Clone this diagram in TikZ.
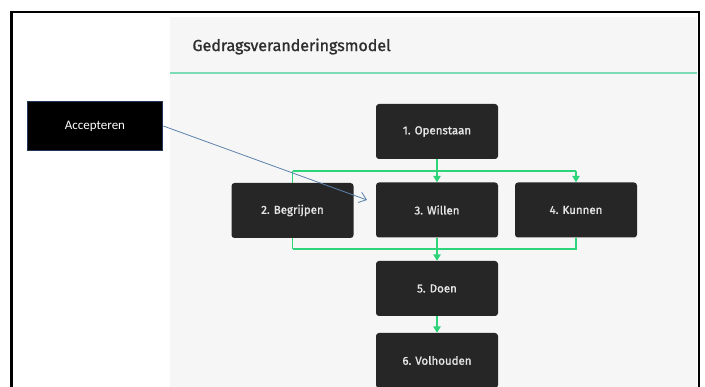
\documentclass[tikz,border=0pt]{standalone}
\usepackage{fontspec}
\setmainfont{Fira Sans}
\newfontfamily\medfont{Fira Sans}[FakeBold=1.3]
\newfontfamily\calib{Carlito}
\usetikzlibrary{arrows.meta,backgrounds}
\definecolor{boxfill}{HTML}{262626}
\definecolor{boxtext}{HTML}{E6E6E6}
\definecolor{panel}{HTML}{F6F6F6}
\definecolor{gline}{HTML}{2ED47A}
\definecolor{tline}{HTML}{7DDCB5}
\definecolor{accborder}{HTML}{22385A}
\definecolor{accarrow}{HTML}{5B80AA}
\tikzset{
  stepbox/.style={draw=none, fill=boxfill, rounded corners=3pt, minimum width=122pt,
    minimum height=55pt, inner sep=0pt, text=boxtext, font=\medfont\fontsize{11.5}{13}\selectfont},
  accbox/.style={draw=accborder, line width=1.6pt, fill=black, minimum width=135pt,
    minimum height=49pt, inner sep=0pt, text=white, font=\calib\fontsize{13}{15}\selectfont},
  gconn/.style={draw=gline, line width=1.5pt},
  garrow/.style={gconn, -{Triangle[width=7.5pt,length=6.5pt]}},
  accconn/.style={draw=accarrow, line width=0.8pt, -{Straight Barb[length=7pt,width=11pt,line width=0.8pt]}},
}
\begin{document}
\begin{tikzpicture}[x=1pt,y=-1pt]
\useasboundingbox (0,0) rectangle (705,387);
% nodes
\node[stepbox] (open) at (437,131.5) {1. Openstaan};
\node[stepbox] (begr) at (292.5,210.5) {2. Begrijpen};
\node[stepbox] (will) at (437,210) {3. Willen};
\node[stepbox] (kunn) at (576,210) {4. Kunnen};
\node[stepbox] (doen) at (437,288.5) {5. Doen};
\node[stepbox] (volh) at (437,360.5) {6. Volhouden};
\node[accbox] (acc) at (95,126) {Accepteren};
\node[anchor=west, text=black!82, font=\medfont\fontsize{16}{18}\selectfont] (title) at (189,46.5) {Gedragsveranderingsmodel};
\coordinate (tl) at (292.5,171);
\coordinate (tr) at (576,171);
\coordinate (bl) at (292.5,249);
\coordinate (br) at (576,249);
\coordinate (accend) at (367,200);
\begin{scope}[on background layer]
  \fill[white] (0,0) rectangle (705,387);
  \fill[panel] (170,17) rectangle (697,400);
  \draw[black, line width=2.2pt] (11.5,12) rectangle (699,420);
  \draw[tline, line width=2pt] (170,73.5) -- (697,73.5);
  \draw[gconn] (tl) -- (tr);
  \draw[gconn] (tl) -- (bl);
  \draw[gconn] (kunn.south) -- (br) -- (bl);
\end{scope}
\draw[garrow] (open.south) -- (will.north);
\draw[garrow] (tr) -- (kunn.north);
\draw[garrow] (will.south) -- (doen.north);
\draw[garrow] (doen.south) -- (volh.north);
\draw[accconn] (acc.east) -- (accend);
\end{tikzpicture}
\end{document}
